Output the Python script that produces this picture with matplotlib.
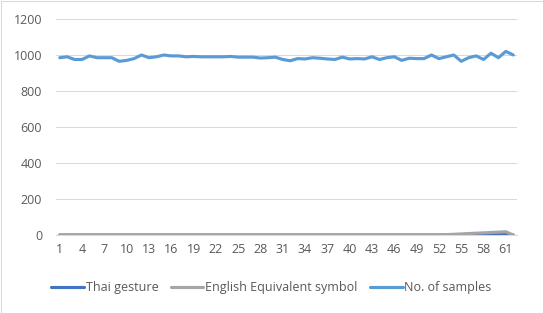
import matplotlib
matplotlib.use("Agg")
import matplotlib.pyplot as plt
import numpy as np

categories = list(range(1, 63))
thai_gesture = [0]*54 + [0, 1, 2, 3, 4, 5, 6, 0]
english_symbol = [0]*52 + [2, 4, 6, 8, 10, 12, 14, 16, 18, 0]
samples = [985, 990, 975, 975, 995, 985, 985, 985, 965, 970,
           980, 1000, 985, 990, 1000, 995, 995, 990, 992, 990,
           990, 990, 990, 992, 988, 988, 988, 983, 985, 988,
           975, 968, 980, 978, 985, 982, 978, 975, 988, 978,
           980, 978, 990, 975, 985, 990, 970, 982, 980, 980,
           1000, 980, 990, 1000, 965, 985, 995, 975, 1010, 985,
           1020, 1000]
yticks = [0, 200, 400, 600, 800, 1000, 1200]
xtick_labels = list(range(1, 63, 3))

plt.rcParams['font.family'] = ['Open Sans', 'DejaVu Sans']
fig = plt.figure(figsize=(5.43, 3.13), dpi=100)
fig.patch.set_facecolor('white')
ax = fig.add_axes([56/543, 1-235/313, (517-56)/543, (235-19)/313])

ax.plot(categories, thai_gesture, color='#4472C4', lw=2.25, label='Thai gesture', solid_capstyle='round', zorder=3)
ax.plot(categories, english_symbol, color='#A5A5A5', lw=2.25, label='English Equivalent symbol', solid_capstyle='round', zorder=4)
ax.plot(categories, samples, color='#5B9BD5', lw=2.25, label='No. of samples', solid_capstyle='round', zorder=5)

ax.set_xlim(0.5, 62.5)
ax.set_ylim(0, 1200)
ax.set_yticks(yticks)
ax.set_xticks(xtick_labels)
ax.set_xticklabels([str(v) for v in xtick_labels])
ax.grid(axis='y', color='#D9D9D9', lw=0.75, zorder=0)
for s in ['top', 'right', 'left']:
    ax.spines[s].set_visible(False)
ax.spines['bottom'].set_color('#D9D9D9')
ax.spines['bottom'].set_linewidth(0.75)
ax.tick_params(length=0, labelsize=9, colors='#595959', pad=6)
ax.tick_params(axis='y', pad=10)

leg = fig.legend(loc='center', bbox_to_anchor=(0.5, 1-288/313), ncol=3, frameon=False,
                 fontsize=9, handlelength=2.6, handletextpad=0.15, columnspacing=1.0)
for t in leg.get_texts():
    t.set_color('#595959')

border = plt.Rectangle((0.5/543, 0.5/313), 1-1/543, 1-1/313, transform=fig.transFigure,
                       fill=False, edgecolor='#D9D9D9', lw=0.75)
fig.patches.append(border)

fig.savefig('out.png', dpi=100)
